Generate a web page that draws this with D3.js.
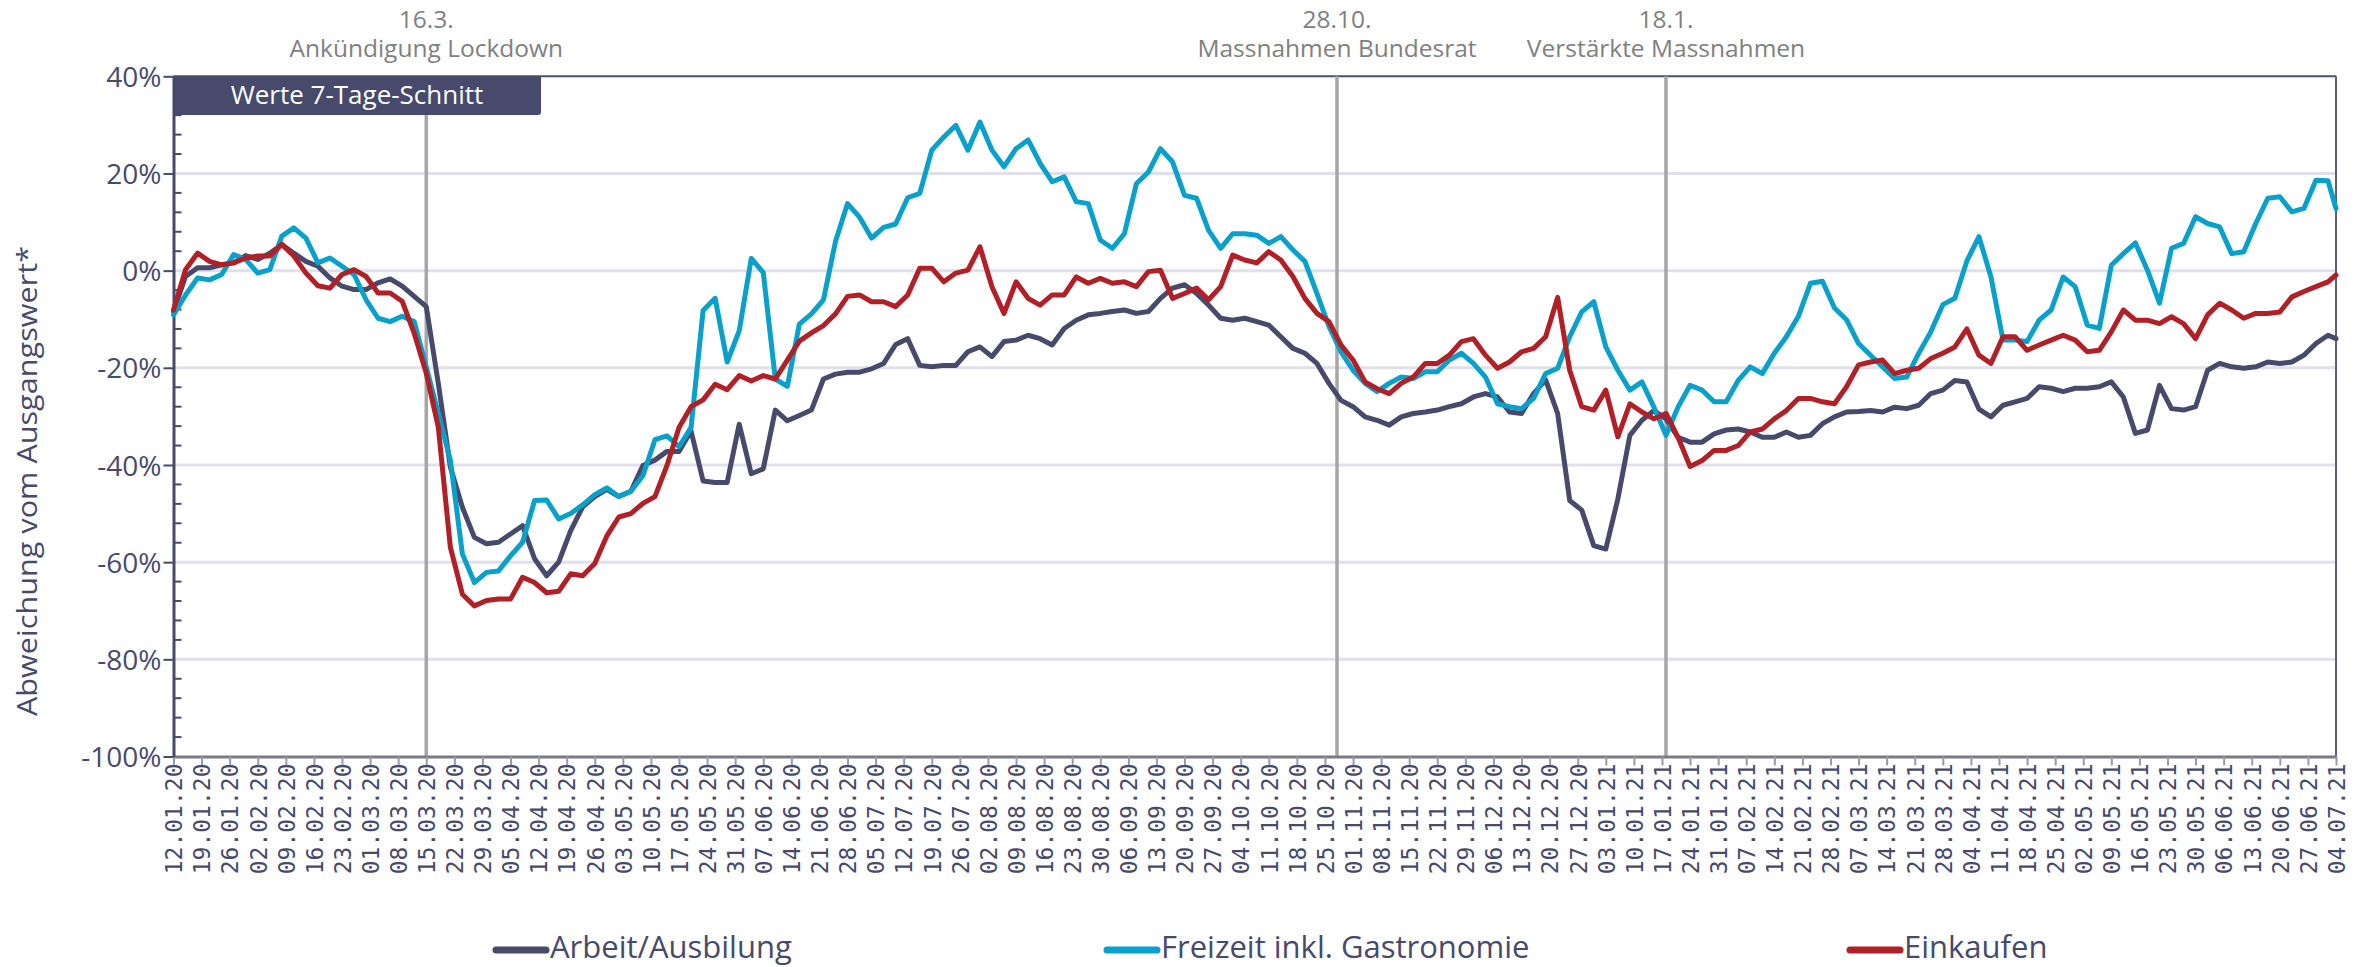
<!DOCTYPE html>
<html><head><meta charset="utf-8">
<script src="https://cdn.jsdelivr.net/npm/d3@7"></script>
<style>
html,body{margin:0;padding:0;background:#fff;}
svg{display:block;}
</style></head>
<body>
<script>
// ---------- DATA ----------
const startDate = "2020-01-12";
const endDate = "2021-07-04";
// sample day offsets from startDate (every 3 days, plus last day)
const sampleDays = d3.range(0, 538, 3).concat([539]);

const seriesNames = ["Arbeit/Ausbilung", "Freizeit inkl. Gastronomie", "Einkaufen"];

const arbeit = [
 -8.4,-1.2,0.6,0.6,1.2,1.6,3.1,2.3,3.6,5.4,
 3.6,1.9,0.9,-1.5,-3.2,-3.9,-3.9,-2.5,-1.7,-3.2,
 -5.3,-7.4,-23.2,-40.4,-48.7,-54.9,-56.2,-55.9,-54.2,-52.5,
 -59.3,-62.8,-60,-53.5,-48.6,-46.5,-45,-46.5,-45.4,-40.1,
 -39,-37.2,-37.2,-33,-43.3,-43.6,-43.6,-31.6,-41.8,-40.8,
 -28.7,-30.9,-29.8,-28.7,-22.3,-21.3,-20.9,-20.9,-20.2,-19.1,
 -15.2,-14,-19.5,-19.8,-19.5,-19.5,-16.7,-15.7,-17.7,-14.6,
 -14.3,-13.3,-14,-15.3,-11.9,-10.2,-9.1,-8.8,-8.4,-8.1,
 -8.8,-8.4,-5.7,-3.6,-2.9,-4.7,-7.1,-9.8,-10.2,-9.8,
 -10.5,-11.2,-13.6,-16,-17,-19.1,-23.2,-26.7,-28,-30.1,
 -30.8,-31.8,-30.1,-29.4,-29.1,-28.7,-28,-27.4,-26,-25.3,
 -26,-29.1,-29.4,-25.3,-22.5,-29.4,-47.3,-49.3,-56.6,-57.3,
 -47,-33.9,-30.8,-28.8,-30.5,-34.3,-35.3,-35.3,-33.6,-32.8,
 -32.6,-33.2,-34.3,-34.3,-33.2,-34.3,-33.9,-31.5,-30.1,-29.1,
 -29,-28.8,-29.1,-28.1,-28.4,-27.7,-25.3,-24.6,-22.6,-22.9,
 -28.5,-30.1,-27.7,-27,-26.3,-23.9,-24.2,-24.9,-24.2,-24.2,
 -23.9,-22.9,-26,-33.5,-32.8,-23.6,-28.4,-28.7,-28,-20.5,
 -19.1,-19.8,-20.1,-19.8,-18.8,-19.1,-18.8,-17.4,-15,-13.3,
 -14
];

const freizeit = [
 -9.1,-5,-1.5,-1.9,-0.8,3.3,2.3,-0.5,0.2,7.1,
 8.8,6.7,1.6,2.6,0.9,-0.8,-6,-9.8,-10.5,-9.4,
 -10.5,-19.8,-29.4,-39,-58.3,-64.2,-62.1,-61.8,-58.7,-55.9,
 -47.3,-47.2,-51.1,-50,-48.2,-46.1,-44.7,-46.5,-45.4,-42.2,
 -34.8,-34,-36.2,-32.3,-8.2,-5.7,-18.8,-12.4,2.5,-0.4,
 -22.3,-23.8,-11,-8.9,-6,6,13.8,11,6.7,8.9,
 9.6,15,15.9,24.8,27.5,29.9,24.8,30.6,24.8,21.4,
 25.1,26.9,22.1,18.3,19.3,14.2,13.8,6.3,4.6,7.6,
 17.9,20.3,25.1,22.4,15.5,14.9,8.3,4.6,7.6,7.6,
 7.3,5.6,7,4.3,1.9,-4.7,-11.5,-16.7,-20.5,-23.2,
 -24.9,-23.2,-21.9,-22.2,-20.8,-20.8,-18.4,-17,-19.1,-21.9,
 -27.4,-28,-28.4,-26.3,-21.2,-20.1,-13.6,-8.5,-6.4,-15.7,
 -20.5,-24.6,-22.9,-28.1,-33.9,-28.1,-23.6,-24.6,-27,-27,
 -22.6,-19.8,-21.2,-17,-13.6,-9.4,-2.6,-2.2,-7.7,-10.1,
 -15,-17.4,-19.8,-22.2,-21.9,-17,-12.6,-7,-5.7,2,
 7,-1.3,-14.3,-14.3,-14.6,-10.2,-8.1,-1.3,-3.3,-11.2,
 -11.9,1.1,3.5,5.7,0.1,-6.7,4.6,5.6,11.1,9.7,
 9,3.5,3.9,9.7,14.9,15.2,12.1,12.8,18.6,18.5,
 12.8
];

const einkaufen = [
 -8.1,0.2,3.6,1.9,1.2,1.6,2.6,3,3,5.4,
 3,-0.5,-3.1,-3.6,-0.8,0.2,-1.2,-4.6,-4.6,-6.3,
 -12.9,-21.1,-32.2,-56.9,-66.6,-69,-67.9,-67.6,-67.6,-63.1,
 -64.2,-66.3,-66,-62.4,-62.8,-60.3,-54.6,-50.7,-50,-47.9,
 -46.5,-40.1,-32.3,-28,-26.6,-23.4,-24.5,-21.6,-22.7,-21.6,
 -22.3,-18.4,-14.5,-12.8,-11.3,-8.9,-5.3,-5,-6.4,-6.4,
 -7.4,-5,0.5,0.5,-2.3,-0.5,0.1,4.9,-3.3,-8.8,
 -2.3,-5.7,-7.1,-5,-5,-1.3,-2.6,-1.6,-2.6,-2.3,
 -3.3,-0.2,0.1,-5.7,-4.7,-3.6,-6,-3.3,3.2,2.2,
 1.6,3.9,2.2,-1.2,-5.7,-8.8,-10.5,-15.3,-18.4,-22.9,
 -24.3,-25.3,-23.2,-21.9,-19.1,-19.1,-17.4,-14.6,-14,-17.4,
 -20.1,-18.8,-16.7,-16,-13.6,-5.5,-20.5,-28,-28.7,-24.6,
 -34.2,-27.4,-29.1,-30.5,-29.4,-34.3,-40.3,-39.1,-37,-37,
 -36,-33.2,-32.6,-30.5,-28.8,-26.3,-26.3,-27,-27.4,-23.9,
 -19.4,-18.8,-18.4,-21.2,-20.5,-20.1,-18.1,-17,-15.7,-12,
 -17.4,-19.1,-13.6,-13.6,-16.4,-15.3,-14.3,-13.3,-14.3,-16.7,
 -16.4,-12.6,-8.1,-10.2,-10.2,-10.9,-9.5,-10.9,-14,-9.1,
 -6.7,-8.1,-9.8,-8.8,-8.8,-8.5,-5.4,-4.3,-3.3,-2.3,
 -0.9
];

const yTickValues = [-100,-80,-60,-40,-20,0,20,40];

const eventDates = ["2020-03-15","2020-10-28","2021-01-18"];
const eventDateLabels = ["16.3.","28.10.","18.1."];
const eventTexts = ["Ankündigung Lockdown","Massnahmen Bundesrat","Verstärkte Massnahmen"];

const boxLabel = "Werte 7-Tage-Schnitt";
const yTitle = "Abweichung vom Ausgangswert*";

// ---------- STYLE / LAYOUT ----------
const W = 2377, H = 967;
const L = 173.5, R = 2336, T = 76.3, B = 756.5;
const colors = ["#474a6b", "#0aa0cc", "#b11f27"];
const navy = "#474a6b";
const txtFont = "'Open Sans', 'Noto Sans', sans-serif";
const monoFont = "'DejaVu Sans Mono', monospace";

const parse = d3.utcParse("%Y-%m-%d");
const t0 = parse(startDate), t1 = parse(endDate);

const x = d3.scaleUtc().domain([t0, t1]).range([L, R]);
const y = d3.scaleLinear().domain([-100, 40]).range([B, T]);

const svg = d3.select("body").append("svg").attr("width", W).attr("height", H);

// gridlines
svg.append("g").selectAll("line")
  .data(yTickValues.filter(v => v > -100 && v < 40))
  .join("line")
  .attr("x1", L).attr("x2", R)
  .attr("y1", d => y(d)).attr("y2", d => y(d))
  .attr("stroke", "#e0dfeb").attr("stroke-width", 3);

// top & right border
svg.append("line").attr("x1", L).attr("x2", R).attr("y1", y(40)).attr("y2", y(40))
  .attr("stroke", "#4d4f6e").attr("stroke-width", 2);
svg.append("line").attr("x1", R).attr("x2", R).attr("y1", y(40)).attr("y2", y(-100))
  .attr("stroke", "#5c5e7a").attr("stroke-width", 2);

// event lines
const boxBottom = 115;
svg.append("g").selectAll("line").data(eventDates).join("line")
  .attr("x1", d => x(parse(d))).attr("x2", d => x(parse(d)))
  .attr("y1", (d,i) => i === 0 ? boxBottom : y(40)).attr("y2", y(-100))
  .attr("stroke", "#a6a6a6").attr("stroke-width", 3.5);

// event labels
const ev = svg.append("g").attr("font-family", txtFont).attr("fill", "#808080")
  .attr("font-size", 24.5).attr("text-anchor", "middle");
eventDates.forEach((d, i) => {
  const xx = x(parse(d));
  ev.append("text").attr("x", xx).attr("y", 28).text(eventDateLabels[i]);
  ev.append("text").attr("x", xx).attr("y", 57).text(eventTexts[i]);
});

// x axis
const weekTicks = d3.utcSunday.range(t0, d3.utcDay.offset(t1, 1));
const fmt = d3.utcFormat("%d.%m.%y");
const xAxis = d3.axisBottom(x).tickValues(weekTicks).tickFormat(fmt).tickSize(9).tickSizeOuter(0);
const gx = svg.append("g").attr("transform", `translate(0,${B})`).call(xAxis);
gx.select(".domain").attr("stroke", "#7a7a84").attr("stroke-width", 3);
gx.selectAll(".tick line").attr("stroke", "#9a9aa2").attr("stroke-width", 2);
gx.selectAll(".tick text")
  .attr("font-family", monoFont).attr("font-size", 23).attr("fill", navy)
  .attr("text-anchor", "end")
  .attr("transform", "rotate(-90)")
  .attr("x", -7).attr("y", 0).attr("dy", "0.36em");

// y axis
const yAxis = d3.axisLeft(y).tickValues(yTickValues).tickFormat(d => d + "%").tickSize(10).tickSizeOuter(0);
const gy = svg.append("g").attr("transform", `translate(${L},0)`).call(yAxis);
gy.select(".domain").attr("stroke", navy).attr("stroke-width", 3);
gy.selectAll(".tick line").attr("stroke", navy).attr("stroke-width", 2);
gy.selectAll(".tick text").attr("font-family", txtFont).attr("font-size", 28)
  .attr("fill", navy).attr("x", -12).attr("dy", "0.36em");
// minor ticks (inside)
const minor = d3.range(-96, 40, 4).filter(v => v % 20 !== 0);
svg.append("g").selectAll("line").data(minor).join("line")
  .attr("x1", L).attr("x2", L + 8).attr("y1", d => y(d)).attr("y2", d => y(d))
  .attr("stroke", navy).attr("stroke-width", 2);

// y title
svg.append("text").attr("transform", `translate(27,481) rotate(-90)`)
  .attr("text-anchor", "middle").attr("dy", "0.36em")
  .attr("textLength", 470).attr("lengthAdjust", "spacingAndGlyphs")
  .attr("font-family", txtFont).attr("font-size", 27).attr("fill", navy).text(yTitle);

// box
svg.append("path")
  .attr("d", `M${L},${T} H541 V${boxBottom - 3} Q541,${boxBottom} 538,${boxBottom} H${L} Z`)
  .attr("fill", "#474a6b");
svg.append("text").attr("x", 357).attr("y", 104).attr("text-anchor", "middle")
  .attr("font-family", txtFont).attr("font-size", 26).attr("fill", "#fff").text(boxLabel);

// series
const allSeries = [arbeit, freizeit, einkaufen];
const line = d3.line()
  .x((d, i) => x(d3.utcDay.offset(t0, sampleDays[i])))
  .y(d => y(d));
svg.append("g").selectAll("path").data(allSeries).join("path")
  .attr("d", d => line(d))
  .attr("fill", "none")
  .attr("stroke", (d, i) => colors[i])
  .attr("stroke-width", 5)
  .attr("stroke-linejoin", "round")
  .attr("stroke-linecap", "round");

// legend
const legendX = [496, 1107, 1850];
const lg = svg.append("g");
seriesNames.forEach((n, i) => {
  lg.append("line").attr("x1", legendX[i]).attr("x2", legendX[i] + 50)
    .attr("y1", 950).attr("y2", 950)
    .attr("stroke", colors[i]).attr("stroke-width", 7).attr("stroke-linecap", "round");
  lg.append("text").attr("x", legendX[i] + 54).attr("y", 958)
    .attr("font-family", txtFont).attr("font-size", 31).attr("fill", navy).text(n);
});
</script>
</body></html>
